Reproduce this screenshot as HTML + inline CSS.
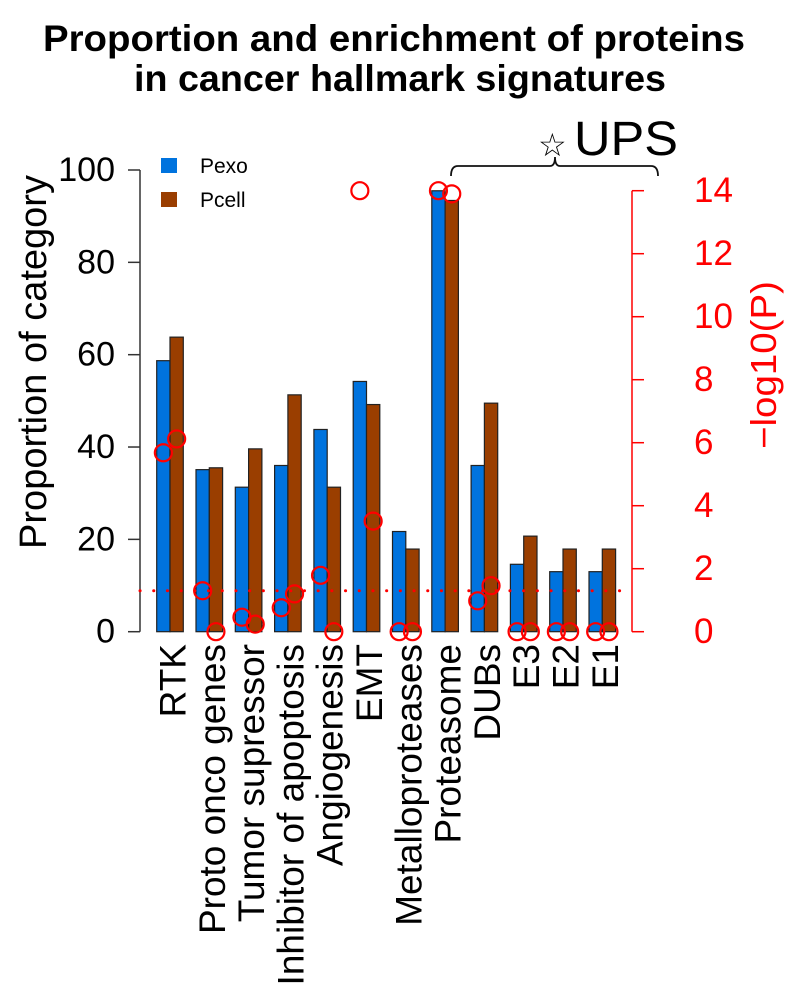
<!DOCTYPE html>
<html><head><meta charset="utf-8"><style>
html,body{margin:0;padding:0;background:#fff;}
svg{display:block;font-family:"Liberation Sans",Arial,sans-serif;}
</style></head><body>
<svg id="chart" width="790" height="1000" viewBox="0 0 790 1000">
<text x="394" y="51" text-anchor="middle" font-size="37" font-weight="bold" textLength="702" lengthAdjust="spacingAndGlyphs">Proportion and enrichment of proteins</text>
<text x="400" y="91" text-anchor="middle" font-size="37" font-weight="bold" textLength="532" lengthAdjust="spacingAndGlyphs">in cancer hallmark signatures</text>
<g id="plot"></g>
</svg>
<script>
const categories = ["RTK","Proto onco genes","Tumor supressor","Inhibitor of apoptosis","Angiogenesis","EMT","Metalloproteases","Proteasome","DUBs","E3","E2","E1"];
const pexo = [58.7,35.1,31.3,36.0,43.8,54.2,21.7,95.5,36.0,14.6,13.0,13.0];
const pcell = [63.8,35.5,39.6,51.3,31.3,49.2,17.9,93.4,49.5,20.7,17.9,17.9];
const logpExo = [5.68,1.3,0.46,0.76,1.79,14,0,14,0.98,0,0,0];
const logpCell = [6.12,0,0.24,1.2,0,3.51,0,13.9,1.46,0,0,0];
const leftTicks = [0,20,40,60,80,100];
const rightTicks = [0,2,4,6,8,10,12,14];
const threshold = 1.3;

const NS="http://www.w3.org/2000/svg";
const g=document.getElementById('plot');
function mk(t,a,parent){const e=document.createElementNS(NS,t);for(const k in a)e.setAttribute(k,a[k]);(parent||g).appendChild(e);return e;}
const y0=631.7;
function yL(v){return y0-v*4.617;}
function yR(v){return y0-v*31.5;}
function xG(i){return 156.7+i*39.3;}
const bw=13.3;

let e=mk('line',{x1:140,x2:140,y1:yL(0),y2:yL(100),stroke:'#333','stroke-width':1.5});


leftTicks.forEach(t=>{
  let l=mk('line',{x1:128,x2:140,y1:yL(t),y2:yL(t),stroke:'#333','stroke-width':1.5});
  
  
  let tx=mk('text',{x:115,y:yL(t),'text-anchor':'end','dominant-baseline':'central','font-size':34});
  tx.textContent=t;
  
  
});
let yt=mk('text',{x:0,y:0,'text-anchor':'middle','font-size':38,transform:'translate(46,362) rotate(-90)'});
yt.textContent='Proportion of category';



e=mk('line',{x1:632,x2:632,y1:yR(0),y2:yR(14),stroke:'red','stroke-width':1.5});


rightTicks.forEach(t=>{
  let l=mk('line',{x1:632,x2:644,y1:yR(t),y2:yR(t),stroke:'red','stroke-width':1.5});
  
  
  let tx=mk('text',{x:694,y:yR(t),'text-anchor':'start','dominant-baseline':'central','font-size':35,fill:'red'});
  tx.textContent=t;
  
  
});
let rt=mk('text',{x:0,y:0,'text-anchor':'middle','font-size':36,fill:'red',textLength:168,lengthAdjust:'spacingAndGlyphs',transform:'translate(776,365) rotate(-90)'});
rt.textContent='\u2212log10(P)';



categories.forEach((c,i)=>{
  let x=xG(i);
  let b1=mk('rect',{x:x,y:yL(pexo[i]),width:bw,height:yL(0)-yL(pexo[i]),fill:'#0073de',stroke:'#222','stroke-width':1.2});
  
  
  let b2=mk('rect',{x:x+bw,y:yL(pcell[i]),width:bw,height:yL(0)-yL(pcell[i]),fill:'#9a3e00',stroke:'#222','stroke-width':1.2});
  
  
  let lb=mk('text',{x:0,y:0,'text-anchor':'end','dominant-baseline':'central','font-size':37,transform:'translate('+(x+bw+3)+',644) rotate(-90)'});
  lb.textContent=c;
  
  
});
let th=mk('line',{x1:140,x2:630,y1:yR(threshold),y2:yR(threshold),stroke:'red','stroke-width':3,'stroke-dasharray':'0.1 13.6','stroke-linecap':'round'});


categories.forEach((c,i)=>{
  let x=xG(i);
  let c1=mk('circle',{cx:x+bw/2,cy:yR(logpExo[i]),r:8.5,fill:'none',stroke:'red','stroke-width':2.2});
  
  
  let c2=mk('circle',{cx:x+bw*1.5,cy:yR(logpCell[i]),r:8.5,fill:'none',stroke:'red','stroke-width':2.2});
  
  
});
let s1=mk('rect',{x:161,y:158,width:16,height:15,fill:'#0073de'});


let t1=mk('text',{x:200,y:173,'font-size':21});t1.textContent='Pexo';


let s2=mk('rect',{x:161,y:192,width:16,height:15,fill:'#9a3e00'});


let t2=mk('text',{x:200,y:207,'font-size':21});t2.textContent='Pcell';


let br=mk('path',{d:'M451,176 Q451,166 458,166 L550,166 Q555,166 555,157 Q555,166 560,166 L651,166 Q658,166 658,176',fill:'none',stroke:'#111','stroke-width':1.8});


let st=mk('text',{x:538,y:156,'font-size':32});st.textContent='\u2606';


let up=mk('text',{x:574,y:155,'font-size':48,textLength:104,lengthAdjust:'spacingAndGlyphs'});up.textContent='UPS';


</script>
</body></html>
